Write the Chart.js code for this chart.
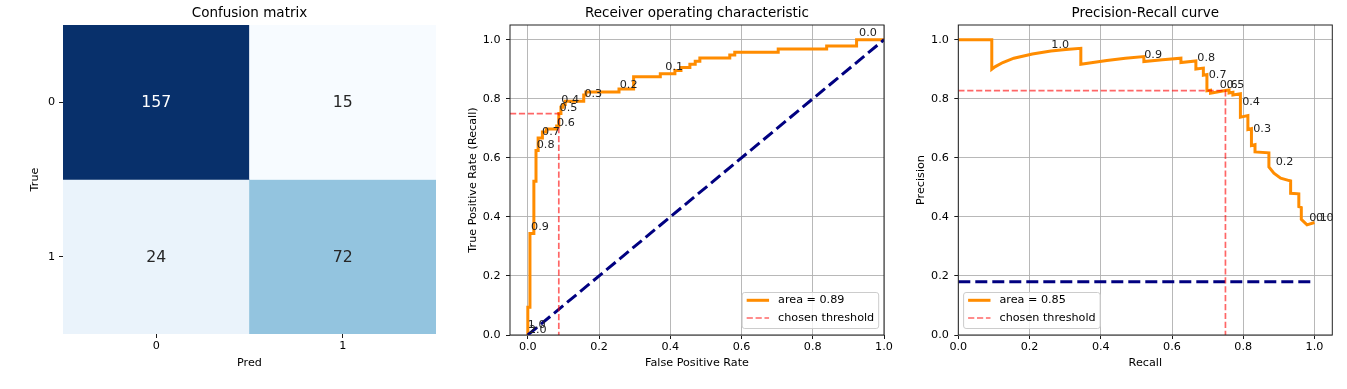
<!DOCTYPE html>
<html><head><meta charset="utf-8">
<script src="https://cdn.jsdelivr.net/npm/chart.js@4.4.1/dist/chart.umd.min.js"></script>
<style>
html,body{margin:0;padding:0;background:#fff;}
body{width:1347px;height:389px;position:relative;overflow:hidden;}
canvas{position:absolute;top:0;}
</style></head><body>
<canvas id="cm" width="450" height="389" style="left:0px"></canvas>
<canvas id="roc" width="440" height="389" style="left:460px"></canvas>
<canvas id="pr" width="447" height="389" style="left:900px"></canvas>
<script>
// ---------------- data ----------------
const cmPredLabels = ['0', '1'];
const cmTrueLabels = ['0', '1'];
const cmRow0 = [157, 15];
const cmRow1 = [24, 72];

const axisTicks = [0, 0.2, 0.4, 0.6, 0.8, 1.0];

const rocArea = '0.89';
const rocFpr = [0, 0, 0.006, 0.006, 0.017, 0.017, 0.023, 0.023, 0.029, 0.029, 0.041, 0.041, 0.052, 0.052,
  0.081, 0.081, 0.087, 0.087, 0.093, 0.093, 0.099, 0.099, 0.105, 0.105, 0.157, 0.157, 0.163, 0.163,
  0.256, 0.256, 0.297, 0.297, 0.372, 0.372, 0.413, 0.413, 0.43, 0.43, 0.455, 0.455, 0.47, 0.47,
  0.483, 0.483, 0.567, 0.567, 0.581, 0.581, 0.703, 0.703, 0.839, 0.839, 0.923, 0.923, 1.0];
const rocTpr = [0, 0.094, 0.094, 0.344, 0.344, 0.521, 0.521, 0.625, 0.625, 0.667, 0.667, 0.688, 0.688, 0.698,
  0.698, 0.708, 0.708, 0.750, 0.750, 0.771, 0.771, 0.781, 0.781, 0.792, 0.792, 0.813, 0.813, 0.823,
  0.823, 0.833, 0.833, 0.875, 0.875, 0.885, 0.885, 0.896, 0.896, 0.906, 0.906, 0.917, 0.917, 0.927,
  0.927, 0.938, 0.938, 0.948, 0.948, 0.958, 0.958, 0.969, 0.969, 0.979, 0.979, 1.0, 1.0];
const rocDiagX = [0, 1];
const rocDiagY = [0, 1];
const rocThrX = [-0.05, 0.087, 0.087];
const rocThrY = [0.75, 0.75, 0];
const rocLblText = ['2.0', '1.0', '0.9', '0.8', '0.7', '0.6', '0.5', '0.4', '0.3', '0.2', '0.1', '0.0'];
const rocLblX = [0.003, 0.0, 0.009, 0.025, 0.040, 0.082, 0.089, 0.094, 0.159, 0.258, 0.386, 0.93];
const rocLblY = [0.008, 0.023, 0.354, 0.634, 0.679, 0.709, 0.760, 0.785, 0.807, 0.835, 0.898, 1.012];

const prArea = '0.85';
const prRecall = [0, 0.094, 0.094, 0.104, 0.125, 0.156, 0.208, 0.26, 0.302, 0.344, 0.344, 0.417, 0.469, 0.521,
  0.521, 0.573, 0.625, 0.625, 0.667, 0.667, 0.688, 0.688, 0.698, 0.698, 0.708, 0.708, 0.75, 0.76,
  0.76, 0.771, 0.771, 0.792, 0.792, 0.792, 0.813, 0.813, 0.823, 0.823, 0.833, 0.833, 0.872, 0.872,
  0.886, 0.905, 0.929, 0.933, 0.933, 0.956, 0.956, 0.963, 0.963, 0.979, 1.0];
const prPrecision = [1.0, 1.0, 0.90, 0.909, 0.923, 0.9375, 0.952, 0.962, 0.967, 0.971, 0.917, 0.930, 0.9375, 0.943,
  0.926, 0.932, 0.9375, 0.923, 0.928, 0.901, 0.904, 0.88, 0.882, 0.827, 0.829, 0.819, 0.828, 0.830,
  0.820, 0.822, 0.813, 0.817, 0.808, 0.738, 0.743, 0.696, 0.699, 0.642, 0.645, 0.620, 0.617, 0.569,
  0.548, 0.531, 0.523, 0.522, 0.480, 0.478, 0.435, 0.432, 0.392, 0.373, 0.381];
const prBaseX = [0, 1];
const prBaseY = [0.18, 0.18];
const prThrX = [0, 0.75, 0.75];
const prThrY = [0.828, 0.828, 0];
const prLblText = ['1.0', '0.9', '0.8', '0.7', '0.6', '0.5', '0.4', '0.3', '0.2', '0.1', '0.0'];
const prLblX = [0.261, 0.522, 0.671, 0.703, 0.734, 0.753, 0.797, 0.828, 0.891, 0.985, 1.004];
const prLblY = [0.972, 0.938, 0.929, 0.870, 0.836, 0.836, 0.780, 0.686, 0.576, 0.386, 0.386];

// ---------------- styles / helpers ----------------
const FONT = '"DejaVu Sans", "Liberation Sans", sans-serif';
Chart.defaults.font.family = FONT;
Chart.defaults.font.size = 11.2;
Chart.defaults.color = '#000';
Chart.defaults.animation = false;

const ORANGE = '#ff8c00', NAVY = '#000080', RED = 'rgba(255,0,0,0.6)';
const blues = ['#f7fbff','#deebf7','#c6dbef','#9ecae1','#6baed6','#4292c6','#2171b5','#08519c','#08306b'];
function hex2rgb(h){return [1,3,5].map(i=>parseInt(h.substr(i,2),16));}
function bluesAt(t){
  t = Math.max(0, Math.min(1, t));
  const p = t * (blues.length - 1), i = Math.min(Math.floor(p), blues.length - 2), f = p - i;
  const a = hex2rgb(blues[i]), b = hex2rgb(blues[i+1]);
  const c = a.map((v,k)=>Math.round(v + (b[k]-v)*f));
  return {css:`rgb(${c[0]},${c[1]},${c[2]})`, lum:(0.2126*c[0]+0.7152*c[1]+0.0722*c[2])/255};
}
const pts = (xs, ys) => xs.map((x,i)=>({x, y: ys[i]}));

function linAxis(min, max, ticks, title, size, isX, titlePad, tickPad){
  return {
    type:'linear', min, max,
    afterBuildTicks: s => { s.ticks = ticks.map(v => ({value: v})); },
    afterFit: s => { if (isX) s.height = size; else s.width = size; },
    ticks: {callback: v => Number(v).toFixed(1), padding: tickPad, autoSkip:false, maxRotation:0, color:'#000', font:{size:11.2}},
    grid: {color:'#b0b0b0', lineWidth:0.9, tickLength:4, tickColor:'#000', tickWidth:0.9},
    border: {display:false},
    title: {display:true, text:title, color:'#000', font:{size:11.2}, padding: titlePad}
  };
}
const framePlugin = {id:'frame', afterDraw(c){
  const {left, top, width, height} = c.chartArea, ctx = c.ctx;
  ctx.save(); ctx.strokeStyle = '#222'; ctx.lineWidth = 1;
  ctx.strokeRect(left, top, width, height); ctx.restore();
}};
function makeLabels(texts, xs, ys){
  return {id:'thrLabels', afterDatasetsDraw(c){
    const ctx = c.ctx, sx = c.scales.x, sy = c.scales.y;
    ctx.save(); ctx.font = '11.2px ' + FONT; ctx.fillStyle = '#222';
    ctx.textAlign = 'left'; ctx.textBaseline = 'alphabetic';
    texts.forEach((t,i)=>ctx.fillText(t, sx.getPixelForValue(xs[i]), sy.getPixelForValue(ys[i])));
    ctx.restore();
  }};
}
function makeLegend(side, dsIdx){
  return {id:'boxLegend', afterDraw(c){
    const ctx = c.ctx, ca = c.chartArea;
    const items = dsIdx.map(i => c.data.datasets[i]);
    ctx.save(); ctx.font = '11.2px ' + FONT;
    const tw = Math.max(...items.map(d => ctx.measureText(d.label).width));
    const pad = 4.5, hl = 22.4, htp = 9, h = 36;
    const w = pad*2 + hl + htp + tw;
    const x = side === 'right' ? ca.right - 5.3 - w : ca.left + 5.3;
    const y = ca.bottom - 6.5 - h;
    ctx.beginPath(); ctx.roundRect(x, y, w, h, 2.5);
    ctx.fillStyle = 'rgba(255,255,255,0.8)'; ctx.fill();
    ctx.strokeStyle = '#cccccc'; ctx.lineWidth = 1; ctx.stroke();
    items.forEach((d, k) => {
      const cy = y + 7.8 + k * 17.7;
      ctx.beginPath(); ctx.setLineDash(d.borderDash || []);
      ctx.strokeStyle = d.borderColor; ctx.lineWidth = d.borderWidth;
      ctx.moveTo(x + pad, cy); ctx.lineTo(x + pad + hl, cy); ctx.stroke();
      ctx.setLineDash([]);
      ctx.fillStyle = '#000'; ctx.textAlign = 'left'; ctx.textBaseline = 'middle';
      ctx.fillText(d.label, x + pad + hl + htp, cy);
    });
    ctx.restore();
  }};
}
const lineDs = (label, data, color, width, dash, order) => ({
  label, data, borderColor: color, borderWidth: width, borderDash: dash, pointRadius: 0,
  tension: 0, fill: false, order, borderCapStyle: 'butt', borderJoinStyle: 'miter'
});
const titleOpt = text => ({display:true, text, fullSize:false, color:'#000',
  font:{size:13.5, weight:'normal'}, padding:{top:5.2, bottom:3.6}});
const common = {responsive:false, animation:false, events:[], devicePixelRatio:1};

// ---------------- confusion matrix ----------------
const cmRows = [cmRow0, cmRow1];
const allVals = cmRows.flat();
const vmin = Math.min(...allVals), vmax = Math.max(...allVals);
const nRows = cmRows.length;
const cmDatasets = cmRows.map((row, i) => ({
  label: 'True ' + cmTrueLabels[i],
  data: row.map(() => [nRows - 1 - i, nRows - i]),
  values: row,
  backgroundColor: row.map(v => bluesAt((v - vmin) / (vmax - vmin)).css),
  borderWidth: 0, barPercentage: 1, categoryPercentage: 1, grouped: false
}));
const cellText = {id:'cellText', afterDatasetsDraw(c){
  const ctx = c.ctx;
  ctx.save(); ctx.font = '15.7px ' + FONT; ctx.textAlign = 'center'; ctx.textBaseline = 'middle';
  c.data.datasets.forEach((ds, i) => {
    c.getDatasetMeta(i).data.forEach((el, j) => {
      const v = ds.values[j];
      const lum = bluesAt((v - vmin) / (vmax - vmin)).lum;
      ctx.fillStyle = lum > 0.408 ? '#262626' : '#ffffff';
      ctx.fillText(String(v), el.x, (el.y + el.base) / 2 + 1);
    });
  });
  ctx.restore();
}};
new Chart(document.getElementById('cm'), {
  type:'bar',
  data:{labels: cmPredLabels, datasets: cmDatasets},
  options:{...common,
    layout:{padding:{left:0, right:14, top:0, bottom:0}},
    plugins:{legend:{display:false}, tooltip:{enabled:false}, title: titleOpt('Confusion matrix')},
    scales:{
      x:{type:'category', offset:true,
        afterFit: s => { s.height = 55; },
        grid:{display:true, drawOnChartArea:false, offset:false, tickLength:4, tickColor:'#000', tickWidth:0.9},
        border:{display:false},
        ticks:{padding:1.7, color:'#000', font:{size:11.2}},
        title:{display:true, text:'Pred', color:'#000', font:{size:11.2}, padding:{top:0, bottom:19.3}}},
      y:{type:'linear', min:0, max:nRows,
        afterBuildTicks: s => { s.ticks = cmTrueLabels.map((_, i) => ({value: nRows - i - 0.5})); },
        afterFit: s => { s.width = 63; },
        grid:{display:true, drawOnChartArea:false, tickLength:4, tickColor:'#000', tickWidth:0.9},
        border:{display:false},
        ticks:{padding:4, color:'#000', font:{size:11.2},
          callback: v => cmTrueLabels[Math.floor(nRows - v)]},
        title:{display:true, text:'True', color:'#000', font:{size:11.2}, padding:{top:28, bottom:0}}}
    }
  },
  plugins:[cellText]
});

// ---------------- ROC ----------------
new Chart(document.getElementById('roc'), {
  type:'line',
  data:{datasets:[
    lineDs('area = ' + rocArea, pts(rocFpr, rocTpr), ORANGE, 3, [], 3),
    lineDs('random', pts(rocDiagX, rocDiagY), NAVY, 3, [12, 5], 2),
    lineDs('chosen threshold', pts(rocThrX, rocThrY), RED, 1.7, [6.2, 2.7], 1)
  ]},
  options:{...common,
    layout:{padding:{left:0, right:16, top:0, bottom:0}},
    plugins:{legend:{display:false}, tooltip:{enabled:false}, title: titleOpt('Receiver operating characteristic')},
    scales:{
      x: linAxis(-0.05, 1.0, axisTicks, 'False Positive Rate', 54, true, {top:0, bottom:19.3}, 1.7),
      y: linAxis(0, 1.05, axisTicks, 'True Positive Rate (Recall)', 50, false, {top:6.7, bottom:0}, 5.5)
    }
  },
  plugins:[framePlugin, makeLabels(rocLblText, rocLblX, rocLblY), makeLegend('right', [0, 2])]
});

// ---------------- PR ----------------
new Chart(document.getElementById('pr'), {
  type:'line',
  data:{datasets:[
    lineDs('area = ' + prArea, pts(prRecall, prPrecision), ORANGE, 3, [], 3),
    lineDs('baseline', pts(prBaseX, prBaseY), NAVY, 3, [12, 5], 2),
    lineDs('chosen threshold', pts(prThrX, prThrY), RED, 1.7, [6.2, 2.7], 1)
  ]},
  options:{...common,
    layout:{padding:{left:0, right:14.7, top:0, bottom:0}},
    plugins:{legend:{display:false}, tooltip:{enabled:false}, title: titleOpt('Precision-Recall curve')},
    scales:{
      x: linAxis(0, 1.05, axisTicks, 'Recall', 54, true, {top:0, bottom:19.3}, 1.7),
      y: linAxis(0, 1.05, axisTicks, 'Precision', 58.3, false, {top:14.7, bottom:0}, 5.5)
    }
  },
  plugins:[framePlugin, makeLabels(prLblText, prLblX, prLblY), makeLegend('left', [0, 2])]
});
</script>
</body></html>
